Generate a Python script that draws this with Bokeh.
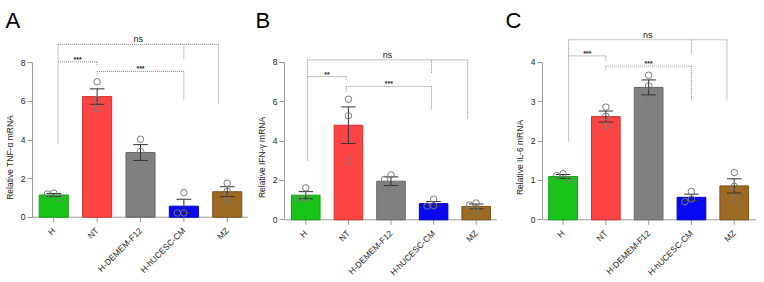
import math
from bokeh.plotting import figure
from bokeh.layouts import row
from bokeh.models import FixedTicker
from bokeh.core.properties import value
from bokeh.embed import file_html
from bokeh.resources import INLINE

# ---------------- data ----------------
categories = ["H", "NT", "H-DEMEM-F12", "H-hUCESC-CM", "MZ"]
bar_colors = ["#18c418", "#ff4444", "#808080", "#0808f4", "#9c6a22"]
edge_colors = ["#10a010", "#d83030", "#666666", "#0000c0", "#7a5218"]

tnf_mean = [1.15, 6.25, 3.35, 0.57, 1.32]
tnf_sem = [0.08, 0.40, 0.41, 0.36, 0.26]
tnf_points = [[1.25, 1.0, 1.2], [7.02, 6.1, 5.62], [4.04, 3.4, 2.63],
              [1.28, 0.22, 0.22], [1.76, 1.35, 0.87]]
tnf_bars = [(0.1, 3.8, 8.95), (0.1, 1.0, 8.05), (1.0, 3.0, 7.55)]
tnf_drops = [(0.1, 8.95, 3.8), (3.0, 8.95, 8.2), (3.8, 8.95, 5.9),
             (1.0, 8.05, 7.85), (1.0, 7.55, 7.3), (3.0, 7.55, 6.0)]
tnf_labels = ["ns", "***", "***"]

ifn_mean = [1.25, 4.8, 1.96, 0.82, 0.68]
ifn_sem = [0.18, 0.93, 0.22, 0.11, 0.12]
ifn_points = [[1.62, 1.05, 1.08], [6.12, 5.28, 3.0], [2.28, 2.05, 1.55],
              [1.05, 0.7, 0.72], [0.85, 0.75, 0.45]]
ifn_bars = [(0.04, 3.8, 8.12), (0.04, 0.95, 7.27), (0.95, 2.95, 6.77)]
ifn_drops = [(0.04, 8.12, 3.0), (2.95, 8.12, 7.43), (3.8, 8.12, 5.1),
             (0.95, 7.27, 7.1), (0.95, 6.77, 6.5), (2.95, 6.77, 5.55)]
ifn_labels = ["ns", "**", "***"]

il6_mean = [1.1, 2.62, 3.36, 0.57, 0.86]
il6_sem = [0.05, 0.14, 0.19, 0.08, 0.18]
il6_points = [[1.17, 1.02, 1.12], [2.86, 2.63, 2.38], [3.67, 3.4, 3.02],
              [0.72, 0.53, 0.46], [1.2, 0.85, 0.55]]
il6_bars = [(0.13, 3.83, 4.57), (0.13, 1.0, 4.16), (1.0, 3.0, 3.9)]
il6_drops = [(0.13, 4.57, 1.97), (3.0, 4.57, 4.21), (3.83, 4.57, 3.03),
             (1.0, 4.16, 4.0), (1.0, 3.9, 3.79), (3.0, 3.9, 3.03)]
il6_labels = ["ns", "***", "***"]

FONT = "Liberation Sans"
HEIGHT = 282
TOP = 32
AXIS_GREY = "#9a9a9a"


def swarm(values, px_per_y, px_per_x, d=6.5):
    """Simple beeswarm: x offsets (data units) for one group of points."""
    placed = []
    offs = [0.0] * len(values)
    order = sorted(range(len(values)), key=lambda i: -values[i])
    for i in order:
        for c in [0, -d, d, -2 * d, 2 * d]:
            ok = True
            for (pc, pv) in placed:
                dy = (values[i] - pv) * px_per_y
                if math.hypot(c - pc, dy) < d:
                    ok = False
                    break
            if ok:
                placed.append((c, values[i]))
                offs[i] = c / px_per_x
                break
    return offs


def panel(letter, ylabel, means, sems, points, bars, drops, labels,
          width, left, right, xr, y0_px, pxu, ymax, ystep, letter_dx):
    frame_top = TOP
    frame_bottom = HEIGHT
    yend = (y0_px - frame_top) / pxu
    ystart = -(frame_bottom - y0_px) / pxu
    p = figure(width=width, height=HEIGHT, x_range=xr, y_range=(ystart, yend),
               output_backend="svg", toolbar_location=None,
               x_axis_location=None,
               min_border_left=left, min_border_right=right,
               min_border_top=TOP, min_border_bottom=0)
    p.outline_line_color = None
    p.grid.visible = False

    # panel letter as title
    p.title.text = letter
    p.title.text_font = FONT
    p.title.text_font_size = "22px"
    p.title.text_font_style = "normal"
    p.title.text_color = "#000000"
    p.title.align = "left"
    p.title.offset = letter_dx
    p.title.standoff = 0

    xs = list(range(len(categories)))
    px_per_x = (width - left - right) / (xr[1] - xr[0])

    # x axis (baseline, ticks, rotated labels)
    p.segment(x0=[xr[0]], y0=[0], x1=[xr[1]], y1=[0],
              line_color=AXIS_GREY, line_width=1)
    p.segment(x0=xs, y0=[0] * 5, x1=xs, y1=[-5 / pxu] * 5,
              line_color=AXIS_GREY, line_width=1)
    p.text(x=xs, y=[-12 / pxu] * 5, text=categories, angle=math.pi / 4,
           text_align="right", text_baseline="middle",
           text_font=value(FONT), text_font_size=value("8.5px"),
           text_color="#222222")

    p.vbar(x=xs, top=means, width=0.67, fill_color=bar_colors,
           line_color=edge_colors, line_width=1)

    # error bars (mean +/- SEM)
    lo = [m - s for m, s in zip(means, sems)]
    hi = [m + s for m, s in zip(means, sems)]
    p.segment(x0=xs, y0=lo, x1=xs, y1=hi, line_color="#333333", line_width=1)
    cw = 0.17
    p.segment(x0=[x - cw for x in xs], y0=hi, x1=[x + cw for x in xs], y1=hi,
              line_color="#333333", line_width=1)
    p.segment(x0=[x - cw for x in xs], y0=lo, x1=[x + cw for x in xs], y1=lo,
              line_color="#333333", line_width=1)

    # individual points
    ptx, pty = [], []
    for i, vals in enumerate(points):
        offs = swarm(vals, pxu, px_per_x)
        for v, o in zip(vals, offs):
            ptx.append(i + o)
            pty.append(v)
    p.scatter(ptx, pty, size=6.5, marker="circle", fill_color=None,
              line_color="#7a7a7a", line_width=1)

    # significance brackets
    p.segment(x0=[b[0] for b in bars], y0=[b[2] for b in bars],
              x1=[b[1] for b in bars], y1=[b[2] for b in bars],
              line_color="#8a8a8a", line_width=1, line_dash="1 1")
    p.segment(x0=[d[0] for d in drops], y0=[d[1] for d in drops],
              x1=[d[0] for d in drops], y1=[d[2] for d in drops],
              line_color="#8a8a8a", line_width=1, line_dash="1 1")
    for b, t in zip(bars, labels):
        ns = (t == "ns")
        p.text(x=[(b[0] + b[1]) / 2], y=[b[2]], text=[t],
               text_font=value(FONT),
               text_font_size=value("9px" if ns else "7px"),
               text_align="center", text_baseline="bottom",
               text_color="#222222",
               text_font_style="normal" if ns else "bold",
               y_offset=0 if ns else 1)

    # y axis
    ya = p.yaxis[0]
    ya.ticker = FixedTicker(ticks=[i * ystep for i in range(int(ymax / ystep) + 1)])
    ya.bounds = (0, ymax)
    ya.axis_label = ylabel
    ya.axis_label_text_font = FONT
    ya.axis_label_text_font_size = "8.5px"
    ya.axis_label_text_font_style = "normal"
    ya.axis_label_text_color = "#222222"
    ya.axis_label_standoff = 3
    ya.major_label_text_font = FONT
    ya.major_label_text_font_size = "8.5px"
    ya.major_label_text_color = "#222222"
    ya.major_label_standoff = 2
    ya.axis_line_color = AXIS_GREY
    ya.major_tick_line_color = AXIS_GREY
    ya.major_tick_out = 5
    ya.major_tick_in = 0
    ya.minor_tick_line_color = None
    return p


pa = panel("A", "Relative TNF-\u03b1 mRNA", tnf_mean, tnf_sem, tnf_points,
           tnf_bars, tnf_drops, tnf_labels,
           width=252, left=32, right=4, xr=(-0.49, 4.49),
           y0_px=216.7, pxu=19.3, ymax=8, ystep=2, letter_dx=-27)
pb = panel("B", "Relative IFN-\u03b3 mRNA", ifn_mean, ifn_sem, ifn_points,
           ifn_bars, ifn_drops, ifn_labels,
           width=245, left=32, right=0, xr=(-0.5, 4.5),
           y0_px=219.3, pxu=19.7, ymax=8, ystep=2, letter_dx=-29)
pc = panel("C", "Relative IL-6 mRNA", il6_mean, il6_sem, il6_points,
           il6_bars, il6_drops, il6_labels,
           width=267, left=45, right=8, xr=(-0.48, 4.52),
           y0_px=219.3, pxu=39.4, ymax=4, ystep=1, letter_dx=-37)

layout = row(pa, pb, pc)
open("out.html", "w").write(file_html(layout, INLINE))
